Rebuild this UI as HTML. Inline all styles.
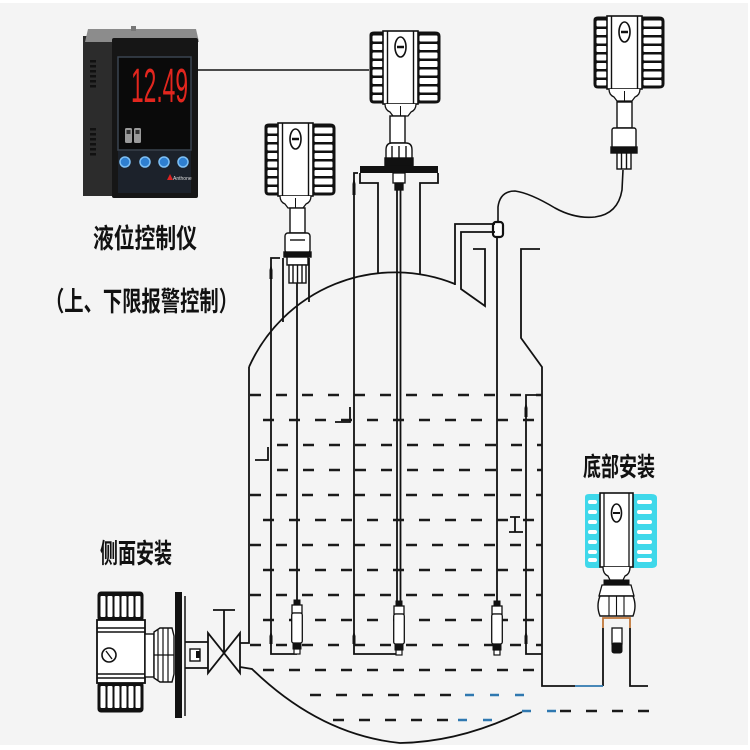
<!DOCTYPE html>
<html><head><meta charset="utf-8"><style>
html,body{margin:0;padding:0;background:#fff;}
svg{display:block;}
.cjk{font-family:"Liberation Sans","Noto Sans CJK SC","WenQuanYi Zen Hei",sans-serif;font-weight:bold;fill:#111;}
</style></head><body>
<svg width="750" height="750" viewBox="0 0 750 750" xmlns="http://www.w3.org/2000/svg">
<defs>
 <g id="head" stroke="#111">
  <path d="M2,5 Q2,2 6,2 L16,2 L16,73 L6,73 Q2,73 2,69 Z" fill="#111"/>
  <g fill="#fff" stroke="none">
   <rect x="4.5" y="5.5" width="10" height="6" rx="1"/><rect x="4.5" y="14" width="10" height="6" rx="1"/><rect x="4.5" y="22.5" width="10" height="6" rx="1"/><rect x="4.5" y="31" width="10" height="6" rx="1"/><rect x="4.5" y="39.5" width="10" height="6" rx="1"/><rect x="4.5" y="48" width="10" height="6" rx="1"/><rect x="4.5" y="56.5" width="10" height="6" rx="1"/><rect x="4.5" y="65" width="10" height="5.5" rx="1"/>
  </g>
  <path d="M49,2 L67,2 Q72,2 72,6 L72,69 Q72,73 67,73 L49,73 Z" fill="#111"/>
  <g fill="#fff" stroke="none">
   <rect x="51.5" y="5.5" width="18" height="6" rx="1"/><rect x="51.5" y="14" width="18" height="6" rx="1"/><rect x="51.5" y="22.5" width="18" height="6" rx="1"/><rect x="51.5" y="31" width="18" height="6" rx="1"/><rect x="51.5" y="39.5" width="18" height="6" rx="1"/><rect x="51.5" y="48" width="18" height="6" rx="1"/><rect x="51.5" y="56.5" width="18" height="6" rx="1"/><rect x="51.5" y="65" width="18" height="5.5" rx="1"/>
  </g>
  <rect x="15" y="1" width="35" height="73" fill="#fff" stroke-width="1.6"/>
  <line x1="19.5" y1="1" x2="19.5" y2="74" stroke-width="1.4"/>
  <line x1="45.5" y1="1" x2="45.5" y2="74" stroke-width="1.4"/>
  <ellipse cx="32.5" cy="17" rx="5.5" ry="10" fill="none" stroke-width="1.6"/>
  <line x1="29" y1="17" x2="36" y2="17" stroke-width="2.5"/>
  <path d="M17,74 Q17,80 22,82 L25,86 L40,86 L43,82 Q48,80 48,74" fill="#fff" stroke-width="1.3"/>
  <line x1="32.5" y1="76" x2="32.5" y2="86" stroke-width="1"/>
 </g>
 <g id="sensor" stroke="#111">
  <rect x="3" y="0" width="6" height="5" fill="#111"/>
  <rect x="1" y="5" width="10" height="8" fill="#fff" stroke-width="1.3"/>
  <rect x="0.7" y="13" width="10.6" height="30" rx="2" fill="#fff" stroke-width="1.3"/>
  <rect x="2" y="43" width="8" height="6" fill="#111"/>
  <rect x="3" y="49" width="6" height="5" fill="#fff" stroke-width="1.2"/>
 </g>
</defs>

<rect x="0" y="3" width="748" height="742" fill="#f4f4f4"/>

<!-- ===== Controller ===== -->
<rect x="83" y="36" width="32" height="160" fill="#2c2c2c"/>
<path d="M88,29 L196,29 L199,42 L85,42 Z" fill="#8c8c8c"/>
<rect x="131" y="26" width="5" height="5" fill="#777"/>
<rect x="112" y="38" width="86" height="160" rx="2" fill="#161616"/>
<g fill="#111">
 <rect x="90" y="60" width="6" height="2.5"/><rect x="90" y="65" width="6" height="2.5"/><rect x="90" y="70" width="6" height="2.5"/><rect x="90" y="75" width="6" height="2.5"/><rect x="90" y="80" width="6" height="2.5"/><rect x="90" y="85" width="6" height="2.5"/>
 <rect x="90" y="128" width="6" height="2.5"/><rect x="90" y="133" width="6" height="2.5"/><rect x="90" y="138" width="6" height="2.5"/><rect x="90" y="143" width="6" height="2.5"/><rect x="90" y="148" width="6" height="2.5"/><rect x="90" y="153" width="6" height="2.5"/>
</g>
<rect x="118" y="57" width="73" height="93" fill="#0a0a0a" stroke="#3a4450" stroke-width="1.5"/>
<text x="131" y="102" font-family="Liberation Sans, sans-serif" font-size="48" fill="#e2261e" textLength="57" lengthAdjust="spacingAndGlyphs">12.49</text>
<rect x="125" y="128" width="7" height="15" rx="1.5" fill="#9a9a9a"/>
<rect x="134" y="128" width="7" height="15" rx="1.5" fill="#9a9a9a"/>
<rect x="126.5" y="130" width="4" height="4" fill="#333"/><rect x="135.5" y="130" width="4" height="4" fill="#333"/>
<rect x="118" y="151" width="73" height="42" fill="#1c222b"/>
<g fill="#2f7fd0" stroke="#7ec0f5" stroke-width="1.5">
 <circle cx="125" cy="162" r="5"/><circle cx="145" cy="162" r="5"/><circle cx="164" cy="162" r="5"/><circle cx="183" cy="162" r="5"/>
</g>
<path d="M167,180 L170,174 L173,180 Z" fill="#d22"/>
<text x="173" y="180" font-family="Liberation Sans, sans-serif" font-size="5" fill="#ddd">Anthone</text>

<!-- connection line -->
<line x1="197" y1="70" x2="369" y2="70" stroke="#111" stroke-width="1.6"/>

<!-- labels -->
<text class="cjk" x="93" y="248" font-size="27" textLength="104" lengthAdjust="spacingAndGlyphs">液位控制仪</text>
<text class="cjk" x="45" y="311" font-size="27" textLength="193" lengthAdjust="spacingAndGlyphs">（上、下限报警控制）</text>
<text class="cjk" x="100" y="563" font-size="27" textLength="72" lengthAdjust="spacingAndGlyphs">侧面安装</text>
<text class="cjk" x="583" y="476" font-size="26" textLength="72" lengthAdjust="spacingAndGlyphs">底部安装</text>

<!-- ===== Transmitter 1 ===== -->
<use href="#head" x="263" y="122"/>
<g stroke="#111" stroke-width="1.4" fill="#fff">
 <rect x="290" y="208" width="15" height="25"/>
 <rect x="285" y="233" width="25" height="20" rx="3"/>
 <rect x="284" y="252" width="27" height="5" fill="#111"/>
 <rect x="287" y="257" width="21" height="8"/>
 <rect x="289" y="265" width="17" height="18"/>
 <line x1="293" y1="265" x2="293" y2="283"/><line x1="297.5" y1="265" x2="297.5" y2="283"/><line x1="302" y1="265" x2="302" y2="283"/>
 <line x1="290" y1="240" x2="305" y2="240"/>
</g>

<!-- ===== Transmitter 2 (flange) ===== -->
<use href="#head" x="368" y="30"/>
<g stroke="#111" stroke-width="1.4" fill="#fff">
 <rect x="390" y="116" width="15" height="27"/>
 <path d="M386,160 L386,150 Q386,143 392,143 L406,143 Q412,143 412,150 L412,160 Z"/>
 <rect x="385" y="158" width="28" height="8" fill="#111"/>
 <line x1="392" y1="146" x2="392" y2="158"/><line x1="399" y1="146" x2="399" y2="158"/><line x1="406" y1="146" x2="406" y2="158"/>
</g>
<rect x="360" y="166" width="78" height="7" fill="#111"/>
<g stroke="#111" stroke-width="1.8" fill="none">
 <path d="M360,173 L360,183 L378,183 L378,274"/>
 <path d="M438,173 L438,183 L420,183 L420,275"/>
</g>
<g stroke="#111" stroke-width="1.3" fill="#fff">
 <rect x="393" y="173" width="12" height="10"/>
 <rect x="395" y="183" width="8" height="7" fill="#111"/>
</g>

<!-- ===== Transmitter 3 ===== -->
<use href="#head" x="592" y="15"/>
<g stroke="#111" stroke-width="1.4" fill="#fff">
 <rect x="617" y="102" width="15" height="26"/>
 <rect x="612" y="128" width="24" height="20" rx="2"/>
 <rect x="611" y="147" width="26" height="6" fill="#111"/>
 <rect x="617" y="153" width="14" height="16"/>
 <line x1="621.5" y1="153" x2="621.5" y2="169"/><line x1="626.5" y1="153" x2="626.5" y2="169"/>
</g>
<path d="M623,170 L622,190 Q618,214 595,217 Q575,219 555,208 Q530,193 515,191 Q500,191 498,207 L498,222" fill="none" stroke="#111" stroke-width="1.6"/>
<rect x="493" y="222" width="10" height="15" rx="3" fill="#fff" stroke="#111" stroke-width="2.2"/>

<!-- ===== Tank ===== -->
<g stroke="#111" stroke-width="1.8" fill="none">
 <path d="M249,367 A160,160 0 0 1 455,284"/>
 <path d="M455,285 L455,224 L495,224"/>
 <path d="M495,232 L461,232 L461,289 L485,306 L485,249 L473,249"/>
 <path d="M540,249 L521,249 L521,338 L542,367 L542,686 L575,686"/>
 <path d="M603,628 L603,686"/>
 <path d="M630,628 L630,686 L648,686"/>
 <path d="M249,367 L249,643 L240,643"/>
 <path d="M240,667 L252,669 Q320,735 400,743 Q460,742 522,712"/>
 <path d="M280,258 L271,258 L271,654 L297,654"/>
 <line x1="297" y1="283" x2="297" y2="600"/>
 <line x1="283" y1="258" x2="283" y2="322"/>
 <line x1="309" y1="258" x2="309" y2="302"/>
 <path d="M358,173 L354,173 L354,654 L398,654"/>
 <line x1="397" y1="190" x2="397" y2="602"/>
 <line x1="400.5" y1="190" x2="400.5" y2="602"/>
 <line x1="497" y1="237" x2="497" y2="601"/>
 <path d="M540,395 L526,395 L526,654 L542,654"/>
 <path d="M350,407 L350,422 L335,422"/>
 <path d="M268,447 L268,460 L255,460"/>
 <path d="M510,517 L520,517 M515,517 L515,532 M509,532 L523,532"/>
</g>
<line x1="575" y1="686" x2="603" y2="686" stroke="#2f78b0" stroke-width="1.8"/>
<g fill="#111">
 <polygon points="269.5,279 269.5,270 271,264 272.5,270 272.5,279"/>
 <polygon points="352.5,195 352.5,184 354,177 355.5,184 355.5,195"/>
 <polygon points="524.5,417 524.5,408 526,402 527.5,408 527.5,417"/>
 <polygon points="269.5,644 269.5,636 271,631 272.5,636 272.5,644"/>
 <polygon points="352.5,644 352.5,636 354,631 355.5,636 355.5,644"/>
 <polygon points="524.5,644 524.5,636 526,631 527.5,636 527.5,644"/>
</g>

<g stroke="#1a1a1a" stroke-width="2.6" stroke-dasharray="11 15">
 <line x1="250" y1="395" x2="542" y2="395"/>
 <line x1="263" y1="420" x2="542" y2="420"/>
 <line x1="277" y1="445" x2="542" y2="445"/>
 <line x1="277" y1="470" x2="542" y2="470"/>
 <line x1="250" y1="495" x2="542" y2="495"/>
 <line x1="263" y1="520" x2="542" y2="520"/>
 <line x1="250" y1="545" x2="542" y2="545"/>
 <line x1="263" y1="570" x2="542" y2="570"/>
 <line x1="250" y1="595" x2="542" y2="595"/>
 <line x1="263" y1="620" x2="542" y2="620"/>
 <line x1="250" y1="645" x2="542" y2="645"/>
 <line x1="263" y1="670" x2="542" y2="670"/>
 <line x1="310" y1="695" x2="460" y2="695"/>
 <line x1="333" y1="720" x2="450" y2="720"/>
 <line x1="560" y1="711" x2="652" y2="711"/>
</g>
<g stroke="#2f78b0" stroke-width="2.4" stroke-dasharray="9 16">
 <line x1="465" y1="695" x2="535" y2="695"/>
 <line x1="458" y1="720" x2="500" y2="720"/>
 <line x1="522" y1="711" x2="560" y2="711"/>
</g>

<use href="#sensor" x="291" y="600"/>
<use href="#sensor" x="393" y="601"/>
<use href="#sensor" x="491" y="601"/>

<!-- ===== Side mount ===== -->
<g stroke="#111">
 <rect x="98" y="592" width="45" height="29" rx="3" fill="#111"/>
 <g fill="#fff" stroke="none">
  <rect x="100.5" y="596" width="5" height="21" rx="1"/><rect x="107.5" y="596" width="5" height="21" rx="1"/><rect x="114.5" y="596" width="5" height="21" rx="1"/><rect x="121.5" y="596" width="5" height="21" rx="1"/><rect x="128.5" y="596" width="5" height="21" rx="1"/><rect x="135.5" y="596" width="5" height="21" rx="1"/>
 </g>
 <rect x="98" y="682" width="45" height="30" rx="3" fill="#111"/>
 <g fill="#fff" stroke="none">
  <rect x="100.5" y="686" width="5" height="22" rx="1"/><rect x="107.5" y="686" width="5" height="22" rx="1"/><rect x="114.5" y="686" width="5" height="22" rx="1"/><rect x="121.5" y="686" width="5" height="22" rx="1"/><rect x="128.5" y="686" width="5" height="22" rx="1"/><rect x="135.5" y="686" width="5" height="22" rx="1"/>
 </g>
 <rect x="97" y="620" width="48" height="63" fill="#fff" stroke-width="1.8"/>
 <line x1="97" y1="628" x2="145" y2="628" stroke-width="1.5"/>
 <line x1="97" y1="632" x2="145" y2="632" stroke-width="1.5"/>
 <line x1="97" y1="674" x2="145" y2="674" stroke-width="1.5"/>
 <line x1="97" y1="678" x2="145" y2="678" stroke-width="1.5"/>
 <circle cx="109" cy="655" r="7" fill="none" stroke-width="1.6"/>
 <line x1="106" y1="651" x2="112" y2="659" stroke-width="1.3"/>
 <rect x="145" y="634" width="9" height="43" fill="#fff" stroke-width="1.4"/>
 <path d="M154,632 L160,628 L172,628 L174,636 L174,674 L172,682 L160,682 L154,678 Z" fill="#fff" stroke-width="1.4"/>
 <line x1="158" y1="630" x2="158" y2="680" stroke-width="1.2"/>
 <line x1="163" y1="628" x2="163" y2="682" stroke-width="1.2"/>
 <line x1="168" y1="628" x2="168" y2="682" stroke-width="1.2"/>
 <line x1="154" y1="655" x2="174" y2="655" stroke-width="1.2"/>
</g>
<rect x="175" y="592" width="7" height="126" fill="#111"/>
<line x1="185" y1="596" x2="185" y2="716" stroke="#111" stroke-width="1.5"/>
<g stroke="#111" stroke-width="1.8" fill="none">
 <line x1="185" y1="642" x2="208" y2="642"/>
 <line x1="185" y1="668" x2="208" y2="668"/>
 <path d="M208,633 L208,673 L240,633 L240,673 Z"/>
 <line x1="224" y1="610" x2="224" y2="653"/>
 <line x1="213" y1="610" x2="235" y2="610"/>
</g>
<rect x="190" y="649" width="10" height="12" fill="#fff" stroke="#111" stroke-width="1.4"/>
<rect x="196" y="651" width="4" height="7" fill="#111"/>

<!-- ===== Bottom mount ===== -->
<g stroke="#111">
 <path d="M585,497 Q585,494 589,494 L600,494 L600,568 L589,568 Q585,568 585,564 Z" fill="#3fd8ea" stroke="none"/>
 <path d="M633,494 L651,494 Q657,494 657,498 L657,564 Q657,568 651,568 L633,568 Z" fill="#3fd8ea" stroke="none"/>
 <g fill="#fff" stroke="none">
  <rect x="588" y="500" width="9" height="4" rx="2"/><rect x="588" y="510" width="9" height="4" rx="2"/><rect x="588" y="520" width="9" height="4" rx="2"/><rect x="588" y="530" width="9" height="4" rx="2"/><rect x="588" y="540" width="9" height="4" rx="2"/><rect x="588" y="550" width="9" height="4" rx="2"/><rect x="588" y="558" width="9" height="4" rx="2"/>
  <rect x="637" y="500" width="15" height="4" rx="2"/><rect x="637" y="510" width="15" height="4" rx="2"/><rect x="637" y="520" width="15" height="4" rx="2"/><rect x="637" y="530" width="15" height="4" rx="2"/><rect x="637" y="540" width="15" height="4" rx="2"/><rect x="637" y="550" width="15" height="4" rx="2"/><rect x="637" y="558" width="15" height="4" rx="2"/>
 </g>
 <rect x="600" y="493" width="33" height="74" fill="#fff" stroke-width="1.6"/>
 <line x1="604" y1="493" x2="604" y2="567" stroke-width="1.3"/>
 <line x1="629" y1="493" x2="629" y2="567" stroke-width="1.3"/>
 <ellipse cx="616.5" cy="513" rx="5" ry="9" fill="none" stroke-width="1.6"/>
 <line x1="613" y1="513" x2="620" y2="513" stroke-width="2"/>
 <path d="M603,567 Q603,574 608,576 L610,580 L623,580 L625,576 Q630,574 630,567" fill="#fff" stroke-width="1.3"/>
 <rect x="604" y="580" width="25" height="5" fill="#111"/>
 <path d="M602,585 L631,585 L634,596 L599,596 Z" fill="#fff" stroke-width="1.3"/>
 <path d="M600,596 L633,596 Q637,606 633,616 L600,616 Q596,606 600,596 Z" fill="#fff" stroke-width="1.4"/>
 <line x1="609" y1="596" x2="609" y2="616" stroke-width="1.1"/>
 <line x1="616.5" y1="596" x2="616.5" y2="616" stroke-width="1.1"/>
 <line x1="624" y1="596" x2="624" y2="616" stroke-width="1.1"/>
 <rect x="612" y="628" width="10" height="16" fill="#fff" stroke-width="1.3"/>
 <rect x="612" y="643" width="10" height="10" rx="2" fill="#111"/>
</g>
<path d="M603,628 L603,618 L630,618 L630,628" fill="none" stroke="#c0773a" stroke-width="1.8"/>

</svg>
</body></html>
